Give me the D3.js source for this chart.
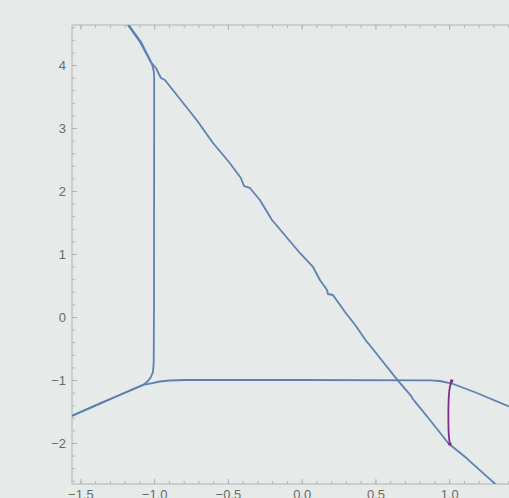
<!DOCTYPE html>
<html>
<head>
<meta charset="utf-8">
<script src="https://cdn.jsdelivr.net/npm/d3@7"></script>
<style>
  html, body { margin: 0; padding: 0; background: #e6eae9; overflow: hidden; }
  svg { display: block; }
  .axis text { font-family: "Liberation Sans", Arial, sans-serif; font-size: 13px; fill: #6a6a6a; }
  .axis path, .axis line { stroke: #b4b4b4; }
</style>
</head>
<body>
<div id="chart"></div>
<script>
// tick values
const X_MAJOR = [-1.5, -1.0, -0.5, 0.0, 0.5, 1.0];
const Y_MAJOR = [-2, -1, 0, 1, 2, 3, 4];

// blue curve: the long falling diagonal
const diagX = [-1.178, -1.096, -1.022, -0.988, -0.954, -0.927, -0.825, -0.712, -0.601, -0.493, -0.412, -0.391, -0.351, -0.283, -0.201, -0.012, 0.077, 0.124, 0.172, 0.178, 0.212, 0.294, 0.368, 0.441, 0.453, 0.551, 0.653, 0.746, 0.751, 0.768, 0.870, 0.994, 1.119, 1.333];
const diagY = [4.635, 4.365, 4.048, 3.952, 3.794, 3.762, 3.460, 3.127, 2.762, 2.460, 2.206, 2.079, 2.048, 1.857, 1.540, 1.016, 0.794, 0.587, 0.429, 0.365, 0.349, 0.079, -0.143, -0.392, -0.421, -0.710, -1.011, -1.265, -1.294, -1.344, -1.635, -2.005, -2.243, -2.694];

// blue curve: lower-left branch turning up the x = -1 vertical
const vertX = [-1.557, -1.367, -1.232, -1.076, -1.042, -1.022, -1.008, -1.003, -1.001, -1.000, -1.000, -1.002, -1.011, -1.024, -1.090, -1.172];
const vertY = [-1.570, -1.375, -1.238, -1.082, -1.016, -0.952, -0.873, -0.714, 0.270, 3.000, 3.790, 3.890, 3.984, 4.060, 4.370, 4.635];

// blue curve: lower-left branch running along y = -1 then falling right
const horzX = [-1.557, -1.367, -1.232, -1.076, -1.028, -0.961, -0.893, -0.791, 0.000, 0.870, 0.938, 1.019, 1.188, 1.405];
const horzY = [-1.566, -1.372, -1.235, -1.077, -1.056, -1.024, -1.008, -1.000, -1.000, -1.005, -1.016, -1.056, -1.206, -1.421];

// purple segment near x = 1
const purpX = [1.017, 0.999, 0.994, 0.995, 0.997, 1.005];
const purpY = [-1.016, -1.127, -1.476, -1.700, -1.905, -2.016];

const W = 509, H = 498;
const padL = 72, padT = 25, padB = 484;

const x = d3.scaleLinear().domain([-1.557, 1.5]).range([padL, padL + 147.5 * 3.057]);
const y = d3.scaleLinear().domain([-2.651, 4.635]).range([padB, padT]);

const svg = d3.select("#chart").append("svg")
  .attr("width", W)
  .attr("height", H);

const xMinor = d3.range(-15, 16).map(d => d / 10);
const yMinor = d3.range(-13, 24).map(d => d / 5);

// ------- FRAME + TICKS -------
function frame(axisFn, scale, pos, major, minor, labels, fmt) {
  const gMin = svg.append("g").attr("class", "axis").attr("transform", pos);
  gMin.call(axisFn(scale).tickValues(minor).tickSize(-3).tickSizeOuter(0).tickFormat(""));

  const gMaj = svg.append("g").attr("class", "axis").attr("transform", pos);
  gMaj.call(axisFn(scale).tickValues(major).tickSize(-5).tickSizeOuter(0)
    .tickPadding(labels ? 6 : 0)
    .tickFormat(labels ? fmt : ""));
  return gMaj;
}

// frame lines
svg.append("line").attr("x1", padL).attr("x2", W).attr("y1", padT).attr("y2", padT).attr("stroke", "#b4b4b4");
svg.append("line").attr("x1", padL).attr("x2", W).attr("y1", padB).attr("y2", padB).attr("stroke", "#b4b4b4");
svg.append("line").attr("x1", padL).attr("x2", padL).attr("y1", padT).attr("y2", padB).attr("stroke", "#b4b4b4");

frame(d3.axisBottom, x, `translate(0,${padB})`, X_MAJOR, xMinor, true, d3.format(".1f"));
frame(d3.axisTop, x, `translate(0,${padT})`, X_MAJOR, xMinor, false);
frame(d3.axisLeft, y, `translate(${padL},0)`, Y_MAJOR, yMinor, true, d3.format("d"));

svg.selectAll(".axis .domain").remove();

// ------- CURVES -------
svg.append("clipPath").attr("id", "plotClip")
  .append("rect")
  .attr("x", padL).attr("y", padT)
  .attr("width", W - padL).attr("height", padB - padT);

const plot = svg.append("g").attr("clip-path", "url(#plotClip)");

const line = d3.line().x(d => x(d[0])).y(d => y(d[1]));
const zip = (a, b) => a.map((v, i) => [v, b[i]]);

const blue = "#5e81b5";
[zip(vertX, vertY), zip(horzX, horzY), zip(diagX, diagY)].forEach(pts => {
  plot.append("path")
    .attr("d", line(pts))
    .attr("fill", "none")
    .attr("stroke", blue)
    .attr("stroke-width", 1.8)
    .attr("stroke-linejoin", "round");
});

const purple = "#862a8e";
const purp = zip(purpX, purpY);
plot.append("path")
  .attr("d", d3.line().curve(d3.curveBasis).x(d => x(d[0])).y(d => y(d[1]))(purp))
  .attr("fill", "none")
  .attr("stroke", purple)
  .attr("stroke-width", 1.8);

plot.selectAll("circle.pend")
  .data([purp[0], purp[purp.length - 1]])
  .enter()
  .append("circle")
  .attr("class", "pend")
  .attr("cx", d => x(d[0]))
  .attr("cy", d => y(d[1]))
  .attr("r", 1.8)
  .attr("fill", purple);
</script>
</body>
</html>
